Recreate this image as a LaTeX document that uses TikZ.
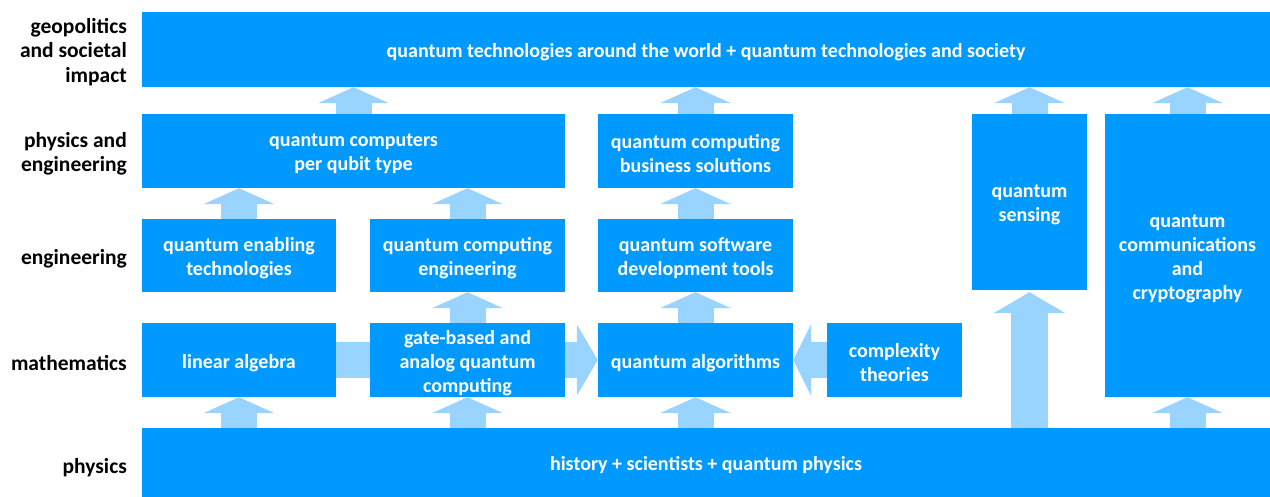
\documentclass[tikz,border=0pt]{standalone}
\usepackage{fontspec}
\setmainfont{Carlito}
\usetikzlibrary{arrows.meta}
\definecolor{boxblue}{RGB}{0,153,255}
\definecolor{arrblue}{RGB}{153,211,255}
\newcommand\qbox[5]{%
  \node[box, minimum width=#3pt, minimum height=#4pt] (#1) at (#2) {};
  \node[boxtext] (#1-t) at ([yshift=-3pt]#1.center) {#5};}
\begin{document}
\begin{tikzpicture}[x=1pt,y=-1pt,
  box/.style={fill=boxblue, inner sep=0pt},
  boxtext/.style={text=white, font=\bfseries\fontsize{20}{24}\selectfont, align=center, inner sep=0pt},
  lab/.style={anchor=east, align=right, text=black, font=\bfseries\fontsize{21.5}{24.5}\selectfont, inner sep=0pt},
  uarr/.style={draw=arrblue, line width=36pt, -{Triangle[width=71pt,length=16pt,line width=0pt]}},
  barr/.style={draw=arrblue, line width=37pt, -{Triangle[width=72pt,length=21pt,line width=0pt]}},
  shaft/.style={draw=arrblue, line width=36pt}]
\useasboundingbox (0,0) rectangle (1270,497);
% labels
\node[lab] (l1) at (127,52) {geopolitics\\and societal\\impact};
\node[lab] (l2) at (127,154) {physics and\\engineering};
\node[lab] (l3) at (127,259) {engineering};
\node[lab] (l4) at (127,363) {mathematics};
\node[lab] (l5) at (127,468) {physics};
% boxes
\qbox{top}{706,49.5}{1128}{75}{quantum technologies around the world + quantum technologies and society}
\qbox{qcq}{353.5,151}{423}{74}{quantum computers\\per qubit type}
\qbox{qbs}{695.5,151}{195}{74}{quantum computing\\business solutions}
\qbox{enab}{239,255.5}{194}{73}{quantum enabling\\technologies}
\qbox{qce}{467.5,255.5}{195}{73}{quantum computing\\engineering}
\qbox{qsdt}{695.5,255.5}{195}{73}{quantum software\\development tools}
\qbox{sens}{1029.5,202}{115}{176}{quantum\\sensing}
\qbox{comm}{1187.5,255.5}{165}{283}{quantum\\communications\\and\\cryptography}
\qbox{lin}{239,360}{194}{74}{linear algebra}
\qbox{gate}{467.5,360}{195}{74}{gate-based and\\analog quantum\\computing}
\qbox{qalg}{695.5,360}{195}{74}{quantum algorithms}
\qbox{cplx}{894.5,360}{135}{74}{complexity\\theories}
\qbox{hist}{706,462.5}{1128}{69}{history + scientists + quantum physics}
% up arrows
\draw[uarr] (qcq.north) -- (qcq.north |- top.south);
\draw[uarr] (qbs.north) -- (qbs.north |- top.south);
\draw[uarr] (sens.north) -- (sens.north |- top.south);
\draw[uarr] (comm.north) -- (comm.north |- top.south);
\draw[uarr] (enab.north) -- (enab.north |- qcq.south);
\draw[uarr] (qce.north) -- (qce.north |- qcq.south);
\draw[uarr] (qsdt.north) -- (qbs.south);
\draw[uarr] (gate.north) -- (qce.south);
\draw[uarr] (qalg.north) -- (qsdt.south);
\draw[uarr] (hist.north -| lin.south) -- (lin.south);
\draw[uarr] (hist.north -| gate.south) -- (gate.south);
\draw[uarr] (hist.north -| qalg.south) -- (qalg.south);
\draw[uarr] (hist.north -| comm.south) -- (comm.south);
\draw[barr] (hist.north -| sens.south) -- ([yshift=-2pt]sens.south);
% horizontal arrows
\draw[shaft] (lin.east) -- (gate.west);
\draw[draw=arrblue, line width=36pt, -{Triangle[width=71pt,length=21pt,line width=0pt]}] (gate.east) -- (qalg.west);
\draw[draw=arrblue, line width=36pt, -{Triangle[width=72pt,length=18pt,line width=0pt]}] (cplx.west) -- (qalg.east);
\end{tikzpicture}
\end{document}
